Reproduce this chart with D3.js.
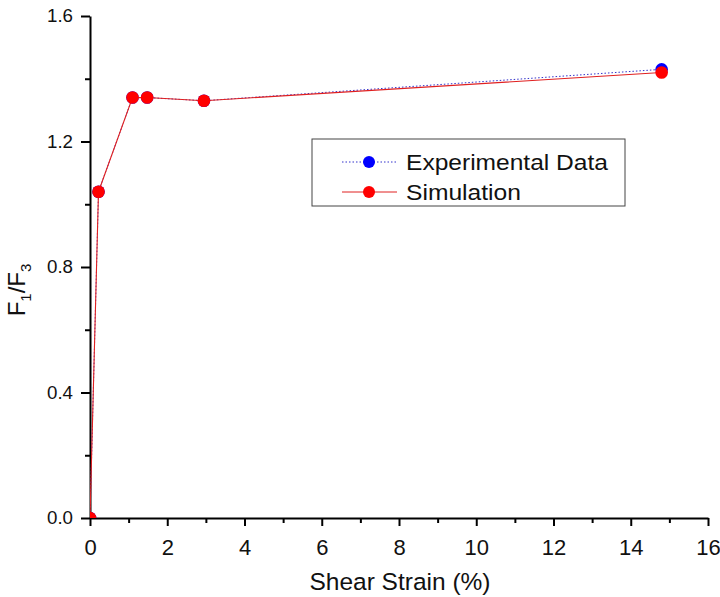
<!DOCTYPE html>
<html><head><meta charset="utf-8">
<script src="https://cdn.jsdelivr.net/npm/d3@7"></script>
<style>body{margin:0;background:#fff}svg{display:block;font-family:Arial,"Liberation Sans",sans-serif}</style>
</head><body>
<svg id="c" width="720" height="597"></svg>
<script>
const strain = [0, 0.22, 1.1, 1.48, 2.95, 14.8];
const experimental = [0, 1.04, 1.34, 1.34, 1.33, 1.43];
const simulation = [0, 1.04, 1.34, 1.34, 1.33, 1.42];
const xTicks = [0, 2, 4, 6, 8, 10, 12, 14, 16];
const yTicks = [0.0, 0.4, 0.8, 1.2, 1.6];
const seriesNames = ["Experimental Data", "Simulation"];

const svg = d3.select("#c");
const x = d3.scaleLinear().domain([0, 16]).range([90, 708]);
const y = d3.scaleLinear().domain([0, 1.6]).range([518, 16]);

svg.append("defs").append("clipPath").attr("id", "clip")
  .append("rect").attr("x", 90).attr("y", 0).attr("width", 630).attr("height", 518);

const xMinor = d3.range(1, 16, 2);
const yMinor = [0.2, 0.6, 1.0, 1.4];

const xa = svg.append("g").attr("transform", "translate(0,518)")
  .call(d3.axisBottom(x).tickValues(xTicks).tickFormat(d3.format("d")).tickSize(8).tickSizeOuter(0));
svg.append("g").attr("transform", "translate(0,518)")
  .call(d3.axisBottom(x).tickValues(xMinor).tickFormat("").tickSize(5).tickSizeOuter(0))
  .select(".domain").remove();
const ya = svg.append("g").attr("transform", "translate(90,0)")
  .call(d3.axisLeft(y).tickValues(yTicks).tickFormat(d3.format(".1f")).tickSize(9).tickSizeOuter(0));
svg.append("g").attr("transform", "translate(90,0)")
  .call(d3.axisLeft(y).tickValues(yMinor).tickFormat("").tickSize(5).tickSizeOuter(0))
  .select(".domain").remove();

svg.selectAll(".domain").attr("stroke", "#000").attr("stroke-width", 2);
svg.selectAll(".tick line").attr("stroke", "#000").attr("stroke-width", 2);
xa.selectAll("text").attr("font-size", 22).attr("fill", "#111").attr("y", 21).attr("dy", "0.71em");
ya.selectAll("text").attr("font-size", 18).attr("fill", "#111").attr("x", -17)
  .attr("textLength", 26).attr("lengthAdjust", "spacingAndGlyphs");

const plot = svg.append("g").attr("clip-path", "url(#clip)");
const expPts = strain.map((s, i) => [s, experimental[i]]);
const simPts = strain.map((s, i) => [s, simulation[i]]);
const line = d3.line().x(d => x(d[0])).y(d => y(d[1]));

plot.append("path").attr("d", line(expPts)).attr("fill", "none")
  .attr("stroke", "#3333cc").attr("stroke-width", 1).attr("stroke-dasharray", "1.5,2");
plot.selectAll(".ep").data(expPts).join("circle")
  .attr("cx", d => x(d[0])).attr("cy", d => y(d[1])).attr("r", 6.3).attr("fill", "#0000ff");
plot.append("path").attr("d", line(simPts)).attr("fill", "none")
  .attr("stroke", "#e02020").attr("stroke-width", 1.1);
plot.selectAll(".sp").data(simPts).join("circle")
  .attr("cx", d => x(d[0])).attr("cy", d => y(d[1])).attr("r", 6.3).attr("fill", "#ff0000");

// axis titles
svg.append("text").attr("x", 400).attr("y", 590).attr("text-anchor", "middle")
  .attr("font-size", 24.5).attr("fill", "#111").text("Shear Strain (%)");
const yl = svg.append("text").attr("transform", "translate(25,290) rotate(-90)")
  .attr("text-anchor", "middle").attr("font-size", 24).attr("fill", "#111");
yl.append("tspan").text("F");
yl.append("tspan").attr("font-size", 15).attr("dy", 6).text("1");
yl.append("tspan").attr("dy", -6).text("/F");
yl.append("tspan").attr("font-size", 15).attr("dy", 6).text("3");

// legend
const lg = svg.append("g");
lg.append("rect").attr("x", 312).attr("y", 139).attr("width", 313).attr("height", 67)
  .attr("fill", "#fff").attr("stroke", "#444").attr("stroke-width", 1);
const rows = [
  {name: seriesNames[0], color: "#0000ff", stroke: "#3333cc", dash: "1.5,2", yy: 162, len: 202},
  {name: seriesNames[1], color: "#ff0000", stroke: "#e02020", dash: null, yy: 192, len: 115}
];
rows.forEach(r => {
  lg.append("line").attr("x1", 342).attr("x2", 397).attr("y1", r.yy).attr("y2", r.yy)
    .attr("stroke", r.stroke).attr("stroke-width", 1).attr("stroke-dasharray", r.dash);
  lg.append("circle").attr("cx", 369).attr("cy", r.yy).attr("r", 6).attr("fill", r.color);
  lg.append("text").attr("x", 406).attr("y", r.yy + 8).attr("font-size", 21.5).attr("fill", "#111")
    .attr("textLength", r.len).attr("lengthAdjust", "spacingAndGlyphs").text(r.name);
});
</script>
</body></html>
